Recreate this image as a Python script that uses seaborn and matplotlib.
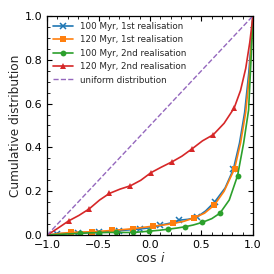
import numpy as np
import pandas as pd
import matplotlib
matplotlib.use('Agg')
import matplotlib.pyplot as plt
import seaborn as sns
from matplotlib.ticker import AutoMinorLocator

# cumulative distributions of cos i
blue_x = [-1.0, -0.9, -0.8, -0.7, -0.6, -0.5, -0.4, -0.3, -0.2, -0.1, 0.0, 0.1, 0.2,
          0.284, 0.37, 0.453, 0.54, 0.63, 0.73, 0.81, 0.87, 0.92, 0.96, 0.99, 1.0]
blue_y = [0.0, 0.006, 0.008, 0.01, 0.012, 0.013, 0.016, 0.02, 0.024, 0.028, 0.033, 0.045, 0.055,
          0.068, 0.072, 0.081, 0.11, 0.152, 0.215, 0.3, 0.42, 0.56, 0.74, 0.92, 1.0]

orange_x = [-1.0, -0.87, -0.767, -0.67, -0.566, -0.47, -0.372, -0.27, -0.168, -0.07, 0.032, 0.13,
            0.226, 0.33, 0.427, 0.53, 0.625, 0.72, 0.822, 0.88, 0.93, 0.97, 1.0]
orange_y = [0.0, 0.008, 0.012, 0.014, 0.015, 0.018, 0.021, 0.025, 0.029, 0.035, 0.041, 0.046,
            0.053, 0.063, 0.078, 0.1, 0.137, 0.2, 0.303, 0.42, 0.56, 0.75, 1.0]

green_x = [-1.0, -0.85, -0.68, -0.59, -0.50, -0.41, -0.33, -0.25, -0.162, -0.08, -0.007, 0.09,
           0.178, 0.26, 0.34, 0.42, 0.508, 0.6, 0.68, 0.77, 0.851, 0.91, 0.958, 0.987, 1.0]
green_y = [0.0, 0.004, 0.008, 0.01, 0.011, 0.012, 0.012, 0.012, 0.012, 0.015, 0.018, 0.022,
           0.027, 0.032, 0.038, 0.046, 0.058, 0.075, 0.10, 0.16, 0.271, 0.42, 0.57, 0.85, 1.0]

red_x = [-1.0, -0.9, -0.79, -0.69, -0.59, -0.49, -0.395, -0.29, -0.19, -0.09, 0.01, 0.11, 0.217,
         0.31, 0.41, 0.51, 0.615, 0.72, 0.818, 0.88, 0.93, 0.97, 1.0]
red_y = [0.0, 0.03, 0.065, 0.09, 0.12, 0.16, 0.19, 0.21, 0.225, 0.25, 0.285, 0.31, 0.335,
         0.36, 0.394, 0.43, 0.458, 0.51, 0.58, 0.66, 0.76, 0.88, 1.0]

uniform_x = [-1.0, 1.0]
uniform_y = [0.0, 1.0]

labels = ['100 Myr, 1st realisation', '120 Myr, 1st realisation',
          '100 Myr, 2nd realisation', '120 Myr, 2nd realisation', 'uniform distribution']

sns.set_style('ticks')
plt.rcParams['font.family'] = ['DejaVu Sans']
plt.rcParams['mathtext.fontset'] = 'dejavusans'

fig = plt.figure(figsize=(2.74, 2.74), dpi=100)
ax = fig.add_axes([0.172, 0.142, 0.751, 0.80])

series = [
    (blue_x, blue_y, '#1f77b4', 'x', list(range(1, 20, 2)), 4.0),
    (orange_x, orange_y, '#ff7f0e', 's', list(range(2, 19, 2)), 4.2),
    (green_x, green_y, '#2ca02c', 'o', list(range(2, 21, 2)), 4.2),
    (red_x, red_y, '#d62728', '^', list(range(2, 19, 2)), 4.2),
]
for (xs, ys, c, m, me, ms), lab in zip(series, labels):
    sns.lineplot(x=xs, y=ys, ax=ax, color=c, marker=m, markevery=me, markersize=ms,
                 markeredgecolor=c, markeredgewidth=1.1 if m == 'x' else 0,
                 linewidth=1.2, sort=False, estimator=None, label=lab)

sns.lineplot(x=uniform_x, y=uniform_y, ax=ax, color='#9467bd', linestyle='--',
             linewidth=1.0, label=labels[4])

ax.set_xlim(-1, 1)
ax.set_ylim(0, 1)
ax.set_xticks([-1.0, -0.5, 0.0, 0.5, 1.0])
ax.set_yticks([0.0, 0.2, 0.4, 0.6, 0.8, 1.0])
ax.xaxis.set_minor_locator(AutoMinorLocator())
ax.yaxis.set_minor_locator(AutoMinorLocator())
ax.tick_params(which='both', direction='in', top=True, right=True, labelsize=8, colors='black')
ax.tick_params(which='major', length=3.5, width=0.8)
ax.tick_params(which='minor', length=2, width=0.6)
for s in ax.spines.values():
    s.set_linewidth(0.9)
    s.set_color('black')

ax.set_xlabel(r'$\cos\,i$', fontsize=9, labelpad=1)
ax.set_ylabel('Cumulative distribution', fontsize=8.7, labelpad=2)

ax.legend(loc='upper left', frameon=False, fontsize=6.3, handlelength=2.2,
          handletextpad=0.8, labelspacing=0.5, borderaxespad=0.3)

fig.savefig('out.png', dpi=100)
